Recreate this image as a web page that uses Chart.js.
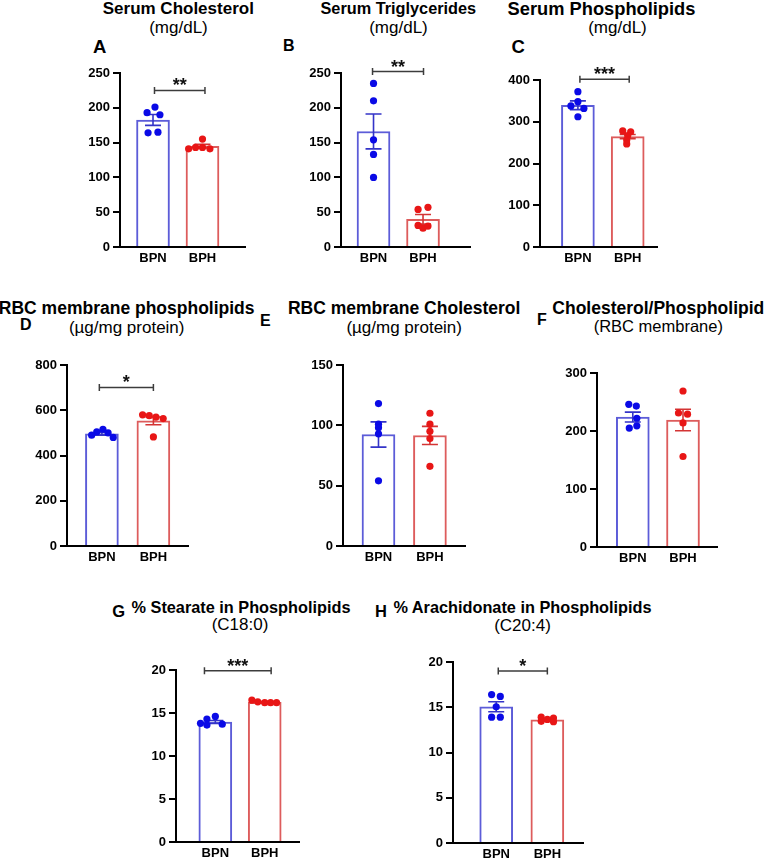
<!DOCTYPE html>
<html><head><meta charset="utf-8">
<script src="https://cdn.jsdelivr.net/npm/chart.js@4/dist/chart.umd.min.js"></script>
<style>
html,body{margin:0;padding:0;background:#fff;}
body{width:764px;height:861px;position:relative;overflow:hidden;font-family:"Liberation Sans",Arial,Helvetica,sans-serif;color:#000;}
.t{position:absolute;white-space:nowrap;line-height:1;transform:translateX(-50%);}
.b{font-weight:bold;}
.L{position:absolute;font-weight:bold;line-height:1;white-space:nowrap;}
canvas{position:absolute;}
</style></head><body>

<div class="t b" style="left:178.3px;top:0.4px;font-size:17px">Serum Cholesterol</div>
<div class="t" style="left:178.5px;top:18.7px;font-size:17px">(mg/dL)</div>
<div class="L" style="left:93px;top:37.6px;font-size:18.5px">A</div>

<div class="t b" style="left:398.3px;top:0.4px;font-size:16.3px">Serum Triglycerides</div>
<div class="t" style="left:398.5px;top:18.7px;font-size:17px">(mg/dL)</div>
<div class="L" style="left:283px;top:38.2px;font-size:16px">B</div>

<div class="t b" style="left:601.5px;top:0px;font-size:18.3px">Serum Phospholipids</div>
<div class="t" style="left:617.5px;top:18.7px;font-size:17px">(mg/dL)</div>
<div class="L" style="left:511.5px;top:37.6px;font-size:18.5px">C</div>

<div class="t b" style="left:126.7px;top:300.2px;font-size:17.5px">RBC membrane phospholipids</div>
<div class="t" style="left:126.7px;top:318.9px;font-size:17px">(µg/mg protein)</div>
<div class="L" style="left:20px;top:316.5px;font-size:16px">D</div>

<div class="t b" style="left:404.2px;top:300.2px;font-size:17.5px">RBC membrane Cholesterol</div>
<div class="t" style="left:404.2px;top:318.9px;font-size:17px">(µg/mg protein)</div>
<div class="L" style="left:260px;top:313.2px;font-size:16px">E</div>

<div class="t b" style="left:658.3px;top:300.2px;font-size:17.5px">Cholesterol/Phospholipid</div>
<div class="t" style="left:658.3px;top:318.2px;font-size:16.5px">(RBC membrane)</div>
<div class="L" style="left:537px;top:311.5px;font-size:16px">F</div>

<div class="t b" style="left:241px;top:599.4px;font-size:16.3px">% Stearate in Phospholipids</div>
<div class="t" style="left:240px;top:615.6px;font-size:17px">(C18:0)</div>
<div class="L" style="left:112.3px;top:602.7px;font-size:16.5px">G</div>

<div class="t b" style="left:522.5px;top:599.4px;font-size:16.3px">% Arachidonate in Phospholipids</div>
<div class="t" style="left:522.5px;top:617px;font-size:17px">(C20:4)</div>
<div class="L" style="left:375px;top:603px;font-size:16.5px">H</div>

<script>
// ---------- DATA ----------
const categories = ['BPN', 'BPH'];

// A: Serum Cholesterol (mg/dL)
const serumChol_BPN  = [201, 193, 190, 164, 165];
const serumChol_BPH  = [155, 141, 143, 143, 141];
const serumChol_mean = [182.5, 144.8];
const serumChol_sem  = [7.8, 2.6];
const serumChol_ticks = [0, 50, 100, 150, 200, 250];
const serumChol_sig = '**';

// B: Serum Triglycerides (mg/dL)
const serumTG_BPN  = [235, 210, 154, 133, 100];
const serumTG_BPH  = [57, 54, 31, 27, 30];
const serumTG_mean = [166, 39.8];
const serumTG_sem  = [25, 7];
const serumTG_ticks = [0, 50, 100, 150, 200, 250];
const serumTG_sig = '**';

// C: Serum Phospholipids (mg/dL)
const serumPL_BPN  = [372, 348, 338, 332, 312];
const serumPL_BPH  = [278, 276, 267, 256, 247];
const serumPL_mean = [339.5, 264.5];
const serumPL_sem  = [10.5, 5];
const serumPL_ticks = [0, 100, 200, 300, 400];
const serumPL_sig = '***';

// D: RBC membrane phospholipids (µg/mg protein)
const rbcPL_BPN  = [516, 505, 500, 490, 480];
const rbcPL_BPH  = [580, 576, 570, 563, 482];
const rbcPL_mean = [496, 553];
const rbcPL_sem  = [6, 17];
const rbcPL_ticks = [0, 200, 400, 600, 800];
const rbcPL_sig = '*';

// E: RBC membrane Cholesterol (µg/mg protein)
const rbcChol_BPN  = [118, 101, 98, 93, 54];
const rbcChol_BPH  = [110, 101, 95, 89, 66];
const rbcChol_mean = [92.4, 91.6];
const rbcChol_sem  = [10.5, 7.5];
const rbcChol_ticks = [0, 50, 100, 150];
const rbcChol_sig = '';

// F: Cholesterol/Phospholipid (RBC membrane)
const cpRatio_BPN  = [246, 243, 222, 209, 205];
const cpRatio_BPH  = [269, 231, 229, 214, 156];
const cpRatio_mean = [224, 219];
const cpRatio_sem  = [8.5, 18.5];
const cpRatio_ticks = [0, 100, 200, 300];
const cpRatio_sig = '';

// G: % Stearate in Phospholipids (C18:0)
const stearate_BPN  = [14.6, 14.3, 13.8, 13.7, 13.6];
const stearate_BPH  = [16.5, 16.3, 16.2, 16.2, 16.2];
const stearate_mean = [13.95, 16.25];
const stearate_sem  = [0.17, 0.07];
const stearate_ticks = [0, 5, 10, 15, 20];
const stearate_sig = '***';

// H: % Arachidonate in Phospholipids (C20:4)
const arach_BPN  = [16.4, 16.2, 15.05, 13.9, 13.9];
const arach_BPH  = [13.9, 13.8, 13.65, 13.45, 13.4];
const arach_mean = [15.05, 13.6];
const arach_sem  = [0.55, 0.1];
const arach_ticks = [0, 5, 10, 15, 20];
const arach_sig = '*';

// ---------- LAYOUT / STYLE ----------
const FONT = '"Liberation Sans", Arial, Helvetica, sans-serif';
const Y_W = 50, X_H = 24, PAD_T = 30, PAD_R = 8;
const BAR_COL = ['#5c5cd8', '#dd5c5c'];
const DOT_COL = ['#0a0ae6', '#e81616'];
const ERR_COL = ['#3434c8', '#d43434'];

const panels = [
  {bpn:serumChol_BPN, bph:serumChol_BPH, mean:serumChol_mean, sem:serumChol_sem, ticks:serumChol_ticks, sig:serumChol_sig,
   axisX:120, top:73, bottom:247, right:245, xmin:0.333, xmax:2.859, brY:225, br:[1.03, 2.05],
   jit:[[0.04,-0.12,0.14,-0.10,0.10],[0,-0.28,-0.14,0,0.15]]},
  {bpn:serumTG_BPN, bph:serumTG_BPH, mean:serumTG_mean, sem:serumTG_sem, ticks:serumTG_ticks, sig:serumTG_sig,
   axisX:341, top:73, bottom:247, right:470, xmin:0.343, xmax:2.949, brY:252, br:[0.98, 2.01],
   jit:[[0,0,0,0,0],[0.1,-0.1,-0.1,0.0,0.1]]},
  {bpn:serumPL_BPN, bph:serumPL_BPH, mean:serumPL_mean, sem:serumPL_sem, ticks:serumPL_ticks, sig:serumPL_sig,
   axisX:540, top:80, bottom:247, right:657, xmin:0.239, xmax:2.588, brY:402, br:[1.04, 2.03],
   jit:[[0,0,-0.14,0.12,0],[-0.1,0.06,0,-0.02,-0.02]]},
  {bpn:rbcPL_BPN, bph:rbcPL_BPH, mean:rbcPL_mean, sem:rbcPL_sem, ticks:rbcPL_ticks, sig:rbcPL_sig,
   axisX:67, top:365, bottom:546, right:188, xmin:0.322, xmax:2.672, brY:701, br:[0.95, 2.0],
   jit:[[0.02,-0.1,0.12,-0.2,0.22],[-0.21,-0.08,0.05,0.19,0]]},
  {bpn:rbcChol_BPN, bph:rbcChol_BPH, mean:rbcChol_mean, sem:rbcChol_sem, ticks:rbcChol_ticks, sig:rbcChol_sig,
   axisX:343, top:365, bottom:546, right:465, xmin:0.310, xmax:2.682, brY:null, br:null,
   jit:[[0,0,0,0,0],[0,0,0,0,0]]},
  {bpn:cpRatio_BPN, bph:cpRatio_BPH, mean:cpRatio_mean, sem:cpRatio_sem, ticks:cpRatio_ticks, sig:cpRatio_sig,
   axisX:597, top:373, bottom:547, right:717, xmin:0.287, xmax:2.677, brY:null, br:null,
   jit:[[-0.08,0.07,0.08,0.08,-0.07],[0,-0.09,0.09,0,0]]},
  {bpn:stearate_BPN, bph:stearate_BPH, mean:stearate_mean, sem:stearate_sem, ticks:stearate_ticks, sig:stearate_sig,
   axisX:176, top:670, bottom:842, right:299, xmin:0.204, xmax:2.694, brY:19.9, br:[0.78, 2.13],
   jit:[[0,-0.17,-0.3,0.14,-0.17],[-0.26,-0.14,0,0.12,0.24]]},
  {bpn:arach_BPN, bph:arach_BPH, mean:arach_mean, sem:arach_sem, ticks:arach_ticks, sig:arach_sig,
   axisX:453, top:662, bottom:843, right:583, xmin:0.155, xmax:2.697, brY:19.0, br:[1.04, 2.0],
   jit:[[-0.09,0.08,0,-0.09,0.08],[-0.12,0.12,0,-0.12,0.12]]}
];

function decor(p) {
  return {
    id: 'decor',
    afterDatasetDraw(chart, args) {
      if (args.index !== 0) return;
      const ctx = chart.ctx, xs = chart.scales.x, ys = chart.scales.y;
      p.mean.forEach((m, i) => {
        const x = xs.getPixelForValue(i + 1);
        const yHi = ys.getPixelForValue(m + p.sem[i]);
        const yLo = ys.getPixelForValue(m - p.sem[i]);
        ctx.save();
        ctx.strokeStyle = ERR_COL[i];
        ctx.lineWidth = 1.6;
        ctx.beginPath();
        ctx.moveTo(x, yHi); ctx.lineTo(x, yLo);
        ctx.moveTo(x - 8, yHi); ctx.lineTo(x + 8, yHi);
        ctx.moveTo(x - 8, yLo); ctx.lineTo(x + 8, yLo);
        ctx.stroke();
        ctx.restore();
      });
    },
    afterDraw(chart) {
      if (p.brY === null || !p.sig) return;
      const ctx = chart.ctx, xs = chart.scales.x, ys = chart.scales.y;
      const y = ys.getPixelForValue(p.brY);
      const x1 = xs.getPixelForValue(p.br[0]), x2 = xs.getPixelForValue(p.br[1]);
      ctx.save();
      ctx.strokeStyle = '#3c3c3c';
      ctx.lineWidth = 1.5;
      ctx.beginPath();
      ctx.moveTo(x1, y); ctx.lineTo(x2, y);
      ctx.moveTo(x1, y - 3.5); ctx.lineTo(x1, y + 3.5);
      ctx.moveTo(x2, y - 3.5); ctx.lineTo(x2, y + 3.5);
      ctx.stroke();
      ctx.fillStyle = '#111';
      ctx.font = 'bold 18px ' + FONT;
      ctx.textAlign = 'center';
      ctx.textBaseline = 'alphabetic';
      ctx.fillText(p.sig, (x1 + x2) / 2, y + 1);
      ctx.restore();
    }
  };
}

function makePanel(p) {
  const c = document.createElement('canvas');
  const W = Math.round(Y_W + (p.right - p.axisX) + PAD_R);
  const H = Math.round(PAD_T + (p.bottom - p.top) + X_H);
  c.width = W; c.height = H;
  c.style.left = (p.axisX - Y_W) + 'px';
  c.style.top = (p.top - PAD_T) + 'px';
  c.style.width = W + 'px';
  c.style.height = H + 'px';
  document.body.appendChild(c);
  const tks = p.ticks;
  const tickFont = {family: FONT, size: 13, weight: 'bold'};
  new Chart(c, {
    type: 'bar',
    data: {
      datasets: [
        {type: 'bar', data: p.mean.map((m, i) => ({x: i + 1, y: m})),
         backgroundColor: '#ffffff', borderColor: BAR_COL, borderWidth: 2,
         barThickness: 33, order: 3},
        {type: 'scatter', data: p.bpn.map((v, j) => ({x: 1 + p.jit[0][j], y: v})),
         pointRadius: 3.6, pointBackgroundColor: DOT_COL[0], pointBorderWidth: 0, order: 1},
        {type: 'scatter', data: p.bph.map((v, j) => ({x: 2 + p.jit[1][j], y: v})),
         pointRadius: 3.6, pointBackgroundColor: DOT_COL[1], pointBorderWidth: 0, order: 1}
      ]
    },
    options: {
      responsive: false, animation: false, events: [],
      layout: {padding: {top: PAD_T, right: PAD_R, left: 0, bottom: 0}},
      plugins: {legend: {display: false}, tooltip: {enabled: false}},
      scales: {
        x: {type: 'linear', min: p.xmin, max: p.xmax, offset: false, z: 1,
            grid: {display: false, drawTicks: false},
            border: {display: true, color: '#000', width: 2},
            afterBuildTicks: (a) => { a.ticks = categories.map((_, i) => ({value: i + 1})); },
            afterFit: (a) => { a.height = X_H; },
            ticks: {autoSkip: false, maxRotation: 0, padding: 4, color: '#000', font: tickFont,
                    callback: (v) => categories[v - 1] || ''}},
        y: {type: 'linear', min: 0, max: tks[tks.length - 1], z: 1,
            grid: {display: true, drawOnChartArea: false, drawTicks: true, tickLength: 7, color: '#000', lineWidth: 2},
            border: {display: true, color: '#000', width: 2},
            afterBuildTicks: (a) => { a.ticks = tks.map(v => ({value: v})); },
            afterFit: (a) => { a.width = Y_W; },
            ticks: {padding: 3, color: '#000', font: tickFont}}
      }
    },
    plugins: [decor(p)]
  });
}

panels.forEach(makePanel);
</script>
</body></html>
